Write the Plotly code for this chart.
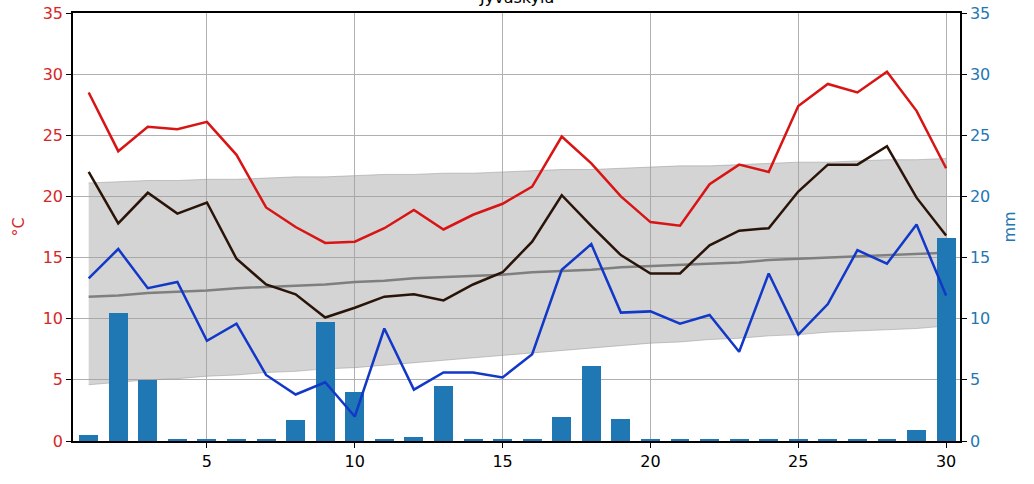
import plotly.graph_objects as go

days = list(range(1, 31))
t_max = [28.5, 23.7, 25.7, 25.5, 26.1, 23.4, 19.1, 17.5, 16.2, 16.3,
         17.4, 18.9, 17.3, 18.5, 19.4, 20.8, 24.9, 22.7, 20.0, 17.9,
         17.6, 21.0, 22.6, 22.0, 27.4, 29.2, 28.5, 30.2, 27.0, 22.3]
t_mean = [22.0, 17.8, 20.3, 18.6, 19.5, 14.9, 12.8, 12.0, 10.1, 10.9,
          11.8, 12.0, 11.5, 12.8, 13.8, 16.3, 20.1, 17.6, 15.2, 13.7,
          13.7, 16.0, 17.2, 17.4, 20.4, 22.6, 22.6, 24.1, 19.9, 16.8]
t_min = [13.3, 15.7, 12.5, 13.0, 8.2, 9.6, 5.4, 3.8, 4.8, 2.0,
         9.2, 4.2, 5.6, 5.6, 5.2, 7.1, 14.0, 16.1, 10.5, 10.6,
         9.6, 10.3, 7.3, 13.7, 8.7, 11.2, 15.6, 14.5, 17.7, 11.9]
precip = [0.5, 10.5, 5.0, 0.2, 0.2, 0.2, 0.2, 1.7, 9.7, 4.0,
          0.2, 0.3, 4.5, 0.2, 0.2, 0.2, 2.0, 6.1, 1.8, 0.2,
          0.2, 0.2, 0.2, 0.2, 0.2, 0.2, 0.2, 0.2, 0.9, 16.6]
clim_upper = [21.1, 21.2, 21.3, 21.3, 21.4, 21.4, 21.5, 21.6, 21.6, 21.7,
              21.8, 21.8, 21.9, 21.9, 22.0, 22.1, 22.2, 22.2, 22.3, 22.4,
              22.5, 22.5, 22.6, 22.7, 22.8, 22.8, 22.9, 23.0, 23.0, 23.1]
clim_lower = [4.6, 4.8, 5.0, 5.1, 5.3, 5.4, 5.6, 5.7, 5.9, 6.0,
              6.2, 6.4, 6.6, 6.8, 7.0, 7.2, 7.4, 7.6, 7.8, 8.0,
              8.1, 8.3, 8.4, 8.6, 8.7, 8.9, 9.0, 9.1, 9.2, 9.4]
clim_mean = [11.8, 11.9, 12.1, 12.2, 12.3, 12.5, 12.6, 12.7, 12.8, 13.0,
             13.1, 13.3, 13.4, 13.5, 13.6, 13.8, 13.9, 14.0, 14.2, 14.3,
             14.4, 14.5, 14.6, 14.8, 14.9, 15.0, 15.1, 15.2, 15.3, 15.4]
title_text = "Jyväskylä"
x_ticks = [5, 10, 15, 20, 25, 30]
y_ticks = [0, 5, 10, 15, 20, 25, 30, 35]

FONT = "DejaVu Sans"
RED_LBL = "#d62728"
BLUE_LBL = "#1f77b4"

fig = go.Figure()

# climate band (on base °C axis)
fig.add_trace(go.Scatter(x=days, y=clim_lower, mode="lines",
                         line=dict(color="rgba(150,150,150,0.5)", width=1),
                         showlegend=False, hoverinfo="skip", yaxis="y"))
fig.add_trace(go.Scatter(x=days, y=clim_upper, mode="lines", fill="tonexty",
                         fillcolor="rgba(160,160,160,0.45)",
                         line=dict(color="rgba(150,150,150,0.5)", width=1),
                         showlegend=False, hoverinfo="skip", yaxis="y"))
fig.add_trace(go.Scatter(x=days, y=clim_mean, mode="lines",
                         line=dict(color="#7f7f7f", width=2.5),
                         showlegend=False, yaxis="y"))

# precipitation bars (mm axis)
fig.add_trace(go.Bar(x=days, y=precip, width=0.64, marker=dict(color="#1f77b4", line=dict(width=0)),
                     showlegend=False, yaxis="y2"))

# temperature lines (°C, drawn on top)
fig.add_trace(go.Scatter(x=days, y=t_max, mode="lines", line=dict(color="#d81414", width=2.5),
                         showlegend=False, yaxis="y3"))
fig.add_trace(go.Scatter(x=days, y=t_mean, mode="lines", line=dict(color="#2a1408", width=2.5),
                         showlegend=False, yaxis="y3"))
fig.add_trace(go.Scatter(x=days, y=t_min, mode="lines", line=dict(color="#1238c8", width=2.5),
                         showlegend=False, yaxis="y3"))

fig.update_layout(
    width=1034, height=484,
    margin=dict(l=73, r=74, t=13, b=43, autoexpand=False),
    paper_bgcolor="white", plot_bgcolor="white",
    font=dict(family=FONT, size=16, color="black"),
    bargap=0,
    xaxis=dict(range=[0.47, 30.47], tickvals=x_ticks, showgrid=True,
               gridcolor="#b0b0b0", gridwidth=1.3, automargin=False,
               showline=True, linecolor="black", linewidth=1.5, mirror=True,
               ticks="outside", ticklen=5, tickcolor="black", zeroline=False,
               tickfont=dict(size=16, color="black")),
    yaxis=dict(range=[0, 35], tickvals=y_ticks, showgrid=True, automargin=False,
               gridcolor="#b0b0b0", gridwidth=1.3, zeroline=False,
               showline=True, linecolor="black", linewidth=1.5,
               ticks="outside", ticklen=5, tickcolor="black",
               tickfont=dict(size=16, color=RED_LBL),
               title=dict(text="°C", font=dict(size=16, color=RED_LBL), standoff=14)),
    yaxis2=dict(range=[0, 35], tickvals=y_ticks, overlaying="y", side="right",
                showgrid=False, zeroline=False, automargin=False,
                showline=True, linecolor="black", linewidth=1.5,
                ticks="outside", ticklen=5, tickcolor="black",
                tickfont=dict(size=16, color=BLUE_LBL),
                title=dict(text="mm", font=dict(size=16, color=BLUE_LBL), standoff=14)),
    yaxis3=dict(range=[0, 35], overlaying="y", matches="y", visible=False,
                showgrid=False, zeroline=False, automargin=False),
    annotations=[dict(text=title_text, xref="paper", yref="paper", x=0.5, y=1,
                      xanchor="center", yanchor="bottom", yshift=4, showarrow=False,
                      font=dict(size=16, color="black"))],
)

fig.write_html("out.html", config={"displayModeBar": False},
               post_script="document.body.style.margin='0';")
